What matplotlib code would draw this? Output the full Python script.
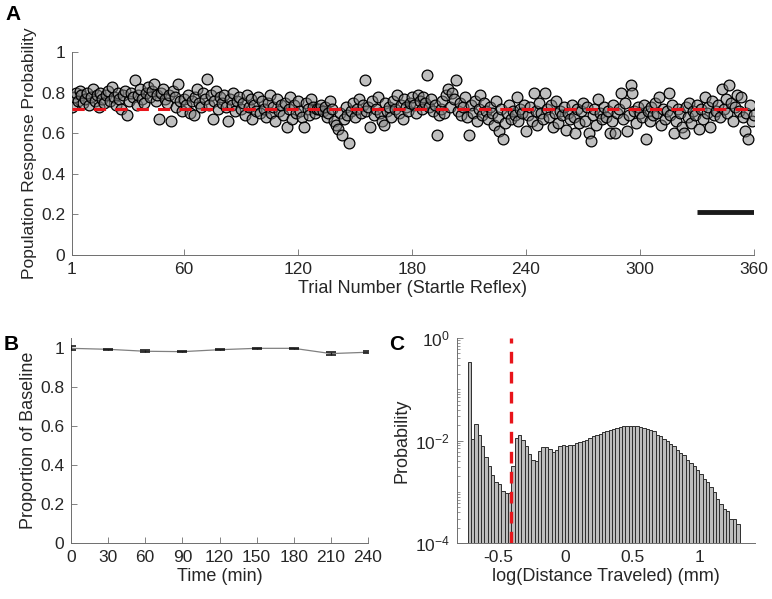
import numpy as np
import matplotlib
matplotlib.use("Agg")
import matplotlib.pyplot as plt
from matplotlib.ticker import FixedLocator, NullFormatter

plt.rcParams['font.family'] = ['Liberation Sans', 'DejaVu Sans']

# ---------------- Panel A data ----------------
resp_prob = [
    0.73, 0.78, 0.80, 0.76, 0.81, 0.79, 0.75, 0.77, 0.80, 0.74, 0.78, 0.82, 0.76, 0.79, 0.73, 0.80, 0.77, 0.75, 0.79, 0.81,
    0.76, 0.83, 0.78, 0.74, 0.80, 0.77, 0.72, 0.79, 0.81, 0.69, 0.76, 0.80, 0.78, 0.86, 0.74, 0.79, 0.82, 0.77, 0.75, 0.80,
    0.83, 0.78, 0.81, 0.84, 0.76, 0.79, 0.67, 0.80, 0.82, 0.77, 0.75, 0.79, 0.66, 0.81, 0.78, 0.73, 0.84, 0.76, 0.71, 0.77,
    0.74, 0.79, 0.70, 0.76, 0.69, 0.78, 0.82, 0.75, 0.73, 0.80, 0.77, 0.865, 0.74, 0.79, 0.67, 0.76, 0.81, 0.72, 0.78, 0.75,
    0.79, 0.73, 0.66, 0.77, 0.74, 0.80, 0.71, 0.76, 0.78, 0.72, 0.75, 0.69, 0.79, 0.73, 0.77, 0.67, 0.74, 0.71, 0.78, 0.70,
    0.76, 0.72, 0.68, 0.75, 0.79, 0.70, 0.73, 0.66, 0.77, 0.71, 0.74, 0.69, 0.75, 0.63, 0.72, 0.78, 0.67, 0.74, 0.70, 0.76,
    0.71, 0.68, 0.63, 0.75, 0.72, 0.69, 0.77, 0.73, 0.70, 0.72, 0.72, 0.74, 0.71, 0.73, 0.68, 0.70, 0.76, 0.72, 0.66, 0.64,
    0.62, 0.70, 0.59, 0.67, 0.73, 0.69, 0.55, 0.71, 0.75, 0.68, 0.72, 0.77, 0.70, 0.74, 0.86, 0.71, 0.73, 0.63, 0.76, 0.69,
    0.72, 0.78, 0.70, 0.66, 0.64, 0.75, 0.71, 0.73, 0.68, 0.76, 0.72, 0.79, 0.70, 0.74, 0.67, 0.77, 0.73, 0.71, 0.75, 0.78,
    0.74, 0.70, 0.79, 0.76, 0.72, 0.78, 0.75, 0.887, 0.73, 0.77, 0.71, 0.74, 0.59, 0.69, 0.72, 0.76, 0.70, 0.79, 0.82, 0.73,
    0.80, 0.77, 0.86, 0.71, 0.75, 0.69, 0.73, 0.78, 0.68, 0.59, 0.74, 0.70, 0.76, 0.66, 0.72, 0.79, 0.69, 0.75, 0.71, 0.67,
    0.73, 0.70, 0.64, 0.76, 0.68, 0.61, 0.72, 0.57, 0.65, 0.70, 0.74, 0.67, 0.71, 0.69, 0.78, 0.66, 0.72, 0.70, 0.74, 0.61,
    0.69, 0.73, 0.66, 0.80, 0.71, 0.64, 0.75, 0.70, 0.67, 0.80, 0.72, 0.68, 0.74, 0.63, 0.70, 0.76, 0.65, 0.71, 0.69, 0.73,
    0.615, 0.70, 0.67, 0.74, 0.68, 0.60, 0.72, 0.65, 0.71, 0.75, 0.66, 0.73, 0.60, 0.56, 0.69, 0.72, 0.64, 0.77, 0.70, 0.67,
    0.73, 0.68, 0.71, 0.60, 0.66, 0.74, 0.60, 0.70, 0.72, 0.80, 0.67, 0.75, 0.61, 0.69, 0.837, 0.80, 0.71, 0.65, 0.73, 0.70,
    0.68, 0.74, 0.57, 0.71, 0.66, 0.73, 0.69, 0.75, 0.70, 0.78, 0.64, 0.72, 0.67, 0.71, 0.80, 0.69, 0.74, 0.60, 0.66, 0.72,
    0.70, 0.63, 0.60, 0.73, 0.68, 0.75, 0.65, 0.71, 0.69, 0.74, 0.62, 0.72, 0.67, 0.78, 0.70, 0.73, 0.63, 0.76, 0.69, 0.71,
    0.74, 0.68, 0.82, 0.72, 0.77, 0.70, 0.837, 0.75, 0.66, 0.73, 0.79, 0.71, 0.78, 0.68, 0.61, 0.70, 0.57, 0.74, 0.66, 0.69,
]
trials = list(range(1, len(resp_prob) + 1))
mean_level = 0.72
scale_bar_trials = [330, 360]
scale_bar_level = 0.21
a_xticks = [1, 60, 120, 180, 240, 300, 360]
a_yticks = [0, 0.2, 0.4, 0.6, 0.8, 1]
a_yticklabels = ['0', '0.2', '0.4', '0.6', '0.8', '1']

# ---------------- Panel B data ----------------
time_min = [0, 30, 60, 90, 120, 150, 180, 210, 240]
prop_baseline = [1.0, 0.995, 0.985, 0.983, 0.993, 1.0, 1.0, 0.973, 0.98]
prop_err = [0.011, 0.003, 0.004, 0.002, 0.004, 0.004, 0.003, 0.007, 0.005]

# ---------------- Panel C data ----------------
bin_start = -0.725
bin_width = 0.025
log10_prob = [
    # -0.725 .. 0
    -0.46, -1.97, -1.68, -1.89, -2.11, -2.33, -2.52, -2.70, -2.84, -2.89, -3.04, -3.07, -3.07,
    -2.52, -1.96, -1.90, -2.00, -2.12, -2.28, -2.39, -2.42, -2.22, -2.14, -2.14, -2.17, -2.23,
    -2.19, -2.11, -2.09,
    # 0 .. 0.675
    -2.11, -2.10, -2.09, -2.06, -2.04, -2.02, -2.00, -1.95, -1.92, -1.90, -1.87, -1.84, -1.82,
    -1.80, -1.77, -1.75, -1.74, -1.72, -1.71, -1.71, -1.71, -1.72, -1.74, -1.76, -1.78, -1.80,
    -1.815,
    # 0.675 .. 1.3
    -1.893, -1.912, -1.971, -2.023, -2.075, -2.107, -2.185, -2.250, -2.296, -2.393, -2.445,
    -2.510, -2.595, -2.673, -2.771, -2.836, -2.953, -3.051, -3.207, -3.311, -3.434, -3.506,
    -3.727, -3.727, -3.871,
]
probability = [10 ** v for v in log10_prob]
bin_left = [bin_start + i * bin_width for i in range(len(probability))]
threshold = -0.4

# ---------------- Styling ----------------
TXT = '#262626'
SP = '#6e6e6e'
TFS = 12.5
LFS = 13

def style(ax):
    for s in ['top', 'right']:
        ax.spines[s].set_visible(False)
    for s in ['left', 'bottom']:
        ax.spines[s].set_color(SP)
        ax.spines[s].set_linewidth(0.7)
    ax.tick_params(direction='in', length=4, width=0.6, colors=SP,
                   labelcolor=TXT, labelsize=TFS, pad=5)
    ax.tick_params(which='minor', direction='in', length=2, width=0.5, colors=SP)

fig = plt.figure(figsize=(7.72, 5.99), dpi=100)

# Panel A
axA = fig.add_axes([72/772, 1-255/599, (754-72)/772, (255-52)/599])
axA.scatter(trials, resp_prob, s=60, facecolor=(0.5, 0.5, 0.5, 0.5),
            edgecolor='black', linewidth=0.9, zorder=3)
axA.plot([1, 360], [mean_level, mean_level], color='#e8141a', lw=2.2,
         dashes=(4, 3), zorder=4)
axA.plot(scale_bar_trials, [scale_bar_level]*2, color='#1a1a1a', lw=3.5,
         solid_capstyle='butt', zorder=4)
axA.set_xlim(1, 360)
axA.set_ylim(0, 1)
axA.set_xticks(a_xticks)
axA.set_yticks(a_yticks)
axA.set_yticklabels(a_yticklabels)
style(axA)
axA.set_xlabel('Trial Number (Startle Reflex)', fontsize=LFS, color=TXT, labelpad=2)
axA.set_ylabel('Population Response Probability', fontsize=12.5, color=TXT, labelpad=3)

# Panel B
axB = fig.add_axes([71/772, 1-543.3/599, (368-71)/772, (543.3-338)/599])
axB.plot(time_min, prop_baseline, color='#808080', lw=0.9, zorder=2)
axB.errorbar(time_min, prop_baseline, yerr=prop_err, fmt='none', ecolor='#1a1a1a',
             elinewidth=0.9, capsize=3.5, capthick=1.2, zorder=3)
axB.set_xlim(0, 240)
axB.set_ylim(0, 1.053)
axB.set_xticks(time_min)
axB.set_yticks(a_yticks)
axB.set_yticklabels(a_yticklabels)
style(axB)
axB.set_xlabel('Time (min)', fontsize=LFS, color=TXT, labelpad=2)
axB.set_ylabel('Proportion of Baseline', fontsize=LFS, color=TXT, labelpad=2)

# Panel C
axC = fig.add_axes([457/772, 1-543/599, (755-457)/772, (543-338)/599])
axC.bar(bin_left, probability, width=bin_width, align='edge', color='#bdbdbd',
        edgecolor='#2e2e2e', linewidth=0.7, bottom=1e-4, zorder=2)
axC.set_yscale('log')
axC.set_ylim(1e-4, 1)
axC.set_xlim(-0.804, 1.415)
axC.axvline(threshold, color='#e8141a', lw=2.4, dashes=(3.5, 2.5), zorder=4)
axC.yaxis.set_major_locator(FixedLocator([1e-4, 1e-2, 1e0]))
minors = [m * 10.0**e for e in range(-4, 0) for m in range(2, 10)] + [1e-3, 1e-1]
axC.yaxis.set_minor_locator(FixedLocator(minors))
axC.yaxis.set_minor_formatter(NullFormatter())
axC.set_xticks([-0.5, 0, 0.5, 1])
axC.set_xticklabels(['-0.5', '0', '0.5', '1'])
style(axC)
axC.set_xlabel('log(Distance Traveled) (mm)', fontsize=LFS, color=TXT, labelpad=2)
axC.set_ylabel('Probability', fontsize=LFS, color=TXT, labelpad=3)

# Panel letters
fig.text(5/772, 1-14/599, 'A', fontsize=15, fontweight='bold', va='center', ha='left')
fig.text(4/772, 1-345/599, 'B', fontsize=15, fontweight='bold', va='center', ha='left')
fig.text(389/772, 1-345/599, 'C', fontsize=15, fontweight='bold', va='center', ha='left')

fig.savefig('out.png', dpi=100)
